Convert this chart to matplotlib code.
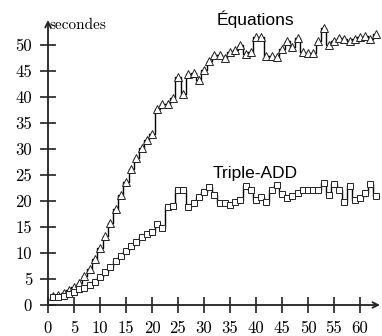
import matplotlib
matplotlib.use("Agg")
import matplotlib.pyplot as plt
import numpy as np

x_vals = list(range(1, 64))
equations = [1.7, 1.9, 2.3, 2.8, 3.5, 4.3, 5.6, 6.9, 8.9, 11.0,
             13.2, 15.8, 18.4, 21.1, 23.6, 26.1, 28.3, 30.1, 31.7, 32.9,
             37.6, 38.6, 38.6, 39.8, 43.8, 40.6, 44.4, 44.6, 43.2, 45.2,
             47.0, 48.0, 48.0, 47.5, 48.7, 49.1, 50.0, 48.2, 48.7, 51.5,
             51.5, 47.9, 47.9, 47.6, 49.3, 50.7, 49.7, 51.4, 48.7, 48.4,
             48.4, 50.7, 53.3, 50.0, 50.7, 51.3, 51.1, 50.7, 51.2, 51.5,
             51.8, 51.2, 52.2]
triple_add = [1.6, 1.6, 1.8, 2.1, 2.5, 3.0, 3.2, 3.8, 4.5, 5.4,
              6.4, 7.4, 8.5, 9.4, 10.4, 11.3, 12.2, 13.0, 13.7, 14.1,
              15.5, 14.9, 18.8, 19.1, 22.1, 22.2, 18.9, 19.7, 20.7, 21.8,
              22.6, 21.2, 19.6, 19.7, 19.2, 19.9, 20.2, 22.8, 22.1, 20.2,
              20.8, 19.9, 22.2, 23.1, 21.3, 20.5, 21.0, 21.5, 22.2, 22.2,
              22.1, 22.1, 23.4, 21.2, 23.3, 22.1, 19.9, 22.9, 20.2, 20.5,
              21.5, 23.3, 21.0]
x_ticks = list(range(0, 61, 5))
y_ticks = list(range(0, 51, 5))

fig = plt.figure(figsize=(3.82, 3.36), dpi=100)
ax = fig.add_axes([48/382, 31/336, 332/382, 285/336])
ax.set_xlim(0, 63.85)
ax.set_ylim(0, 54.8)

ax.plot(x_vals, equations, drawstyle='steps-mid', color='black', lw=1.0, zorder=2)
ax.plot(x_vals, equations, linestyle='none', marker='^', ms=5.8, mfc='white',
        mec='#222222', mew=0.7, zorder=3)
ax.plot(x_vals, triple_add, drawstyle='steps-mid', color='black', lw=1.0, zorder=2)
ax.plot(x_vals, triple_add, linestyle='none', marker='s', ms=4.8, mfc='white',
        mec='#222222', mew=0.7, zorder=3)

for s in ['top', 'right', 'left', 'bottom']:
    ax.spines[s].set_visible(False)

# axes with arrows
ax.annotate('', xy=(1.0, 0), xytext=(0, 0), xycoords='axes fraction',
            arrowprops=dict(arrowstyle='->', lw=1.3, color='#222222',
                            shrinkA=0, shrinkB=0), annotation_clip=False)
ax.annotate('', xy=(0, 1.0), xytext=(0, 0), xycoords='axes fraction',
            arrowprops=dict(arrowstyle='->', lw=1.3, color='#222222',
                            shrinkA=0, shrinkB=0), annotation_clip=False)

ax.set_xticks(x_ticks)
ax.set_yticks(y_ticks)
ax.set_xticklabels([str(t) for t in x_ticks])
ax.set_yticklabels([str(t) for t in y_ticks])
ax.tick_params(axis='both', direction='inout', length=12, width=1.2,
               color='#222222', labelsize=12)
ax.tick_params(axis='x', pad=5.5)
ax.tick_params(axis='y', pad=5.5)
for lab in ax.get_xticklabels() + ax.get_yticklabels():
    lab.set_fontfamily('cmr10')

ax.text(0.2, 53.1, 'secondes', fontfamily='cmr10', fontsize=11,
        ha='left', va='baseline')
ax.text(39.9, 53.8, 'Équations', fontfamily='Liberation Sans', fontsize=12.5,
        ha='center', va='baseline')
ax.text(39.8, 24.5, 'Triple-ADD', fontfamily='Liberation Sans', fontsize=12.5,
        ha='center', va='baseline')

fig.savefig('out.png', dpi=100)
